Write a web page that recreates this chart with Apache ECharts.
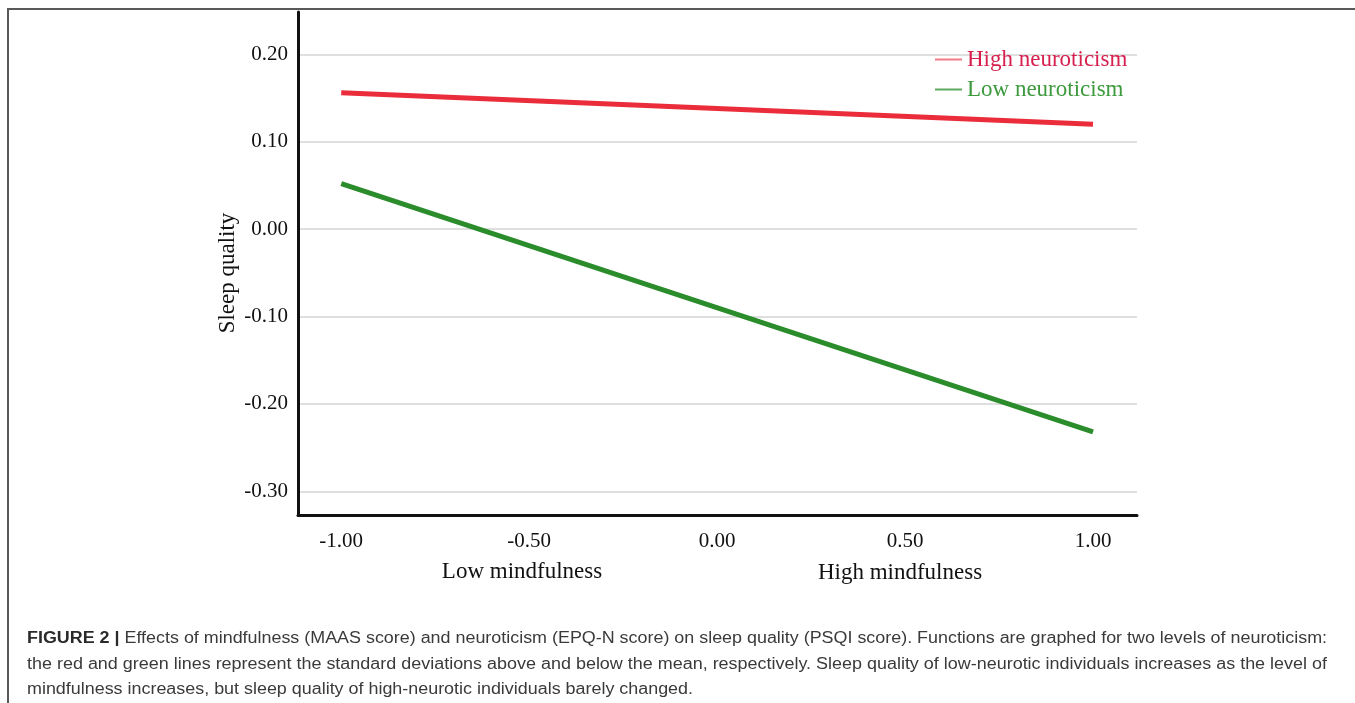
<!DOCTYPE html>
<html>
<head>
<meta charset="utf-8">
<script src="https://cdn.jsdelivr.net/npm/echarts@6/dist/echarts.min.js"></script>
<style>
  html, body { margin: 0; padding: 0; background: #fff; }
  #wrap { position: relative; width: 1355px; height: 703px; overflow: hidden; }
  #frame { position: absolute; left: 7px; top: 8px; width: 1400px; height: 800px;
           border-top: 2px solid #595959; border-left: 2px solid #595959; }
  #chart { position: absolute; left: 0; top: 0; width: 1355px; height: 703px; }
  #caption { position: absolute; left: 27px; top: 625px; font-family: "Liberation Sans", Arial, sans-serif;
             font-size: 16px; color: #3a3a3a; line-height: 25.5px; }
  #caption div { white-space: nowrap; transform-origin: 0 50%; }
  #caption b { color: #2a2a2a; }
</style>
</head>
<body>
<div id="wrap">
  <div id="frame"></div>
  <div id="chart"></div>
  <div id="caption">
    <div data-w="1300"><b>FIGURE 2 |</b> Effects of mindfulness (MAAS score) and neuroticism (EPQ-N score) on sleep quality (PSQI score). Functions are graphed for two levels of neuroticism:</div>
    <div data-w="1300">the red and green lines represent the standard deviations above and below the mean, respectively. Sleep quality of low-neurotic individuals increases as the level of</div>
    <div data-w="666">mindfulness increases, but sleep quality of high-neurotic individuals barely changed.</div>
  </div>
</div>
<script>
// ---- data ----
const mindfulness = [-1.00, 1.00];
const highNeuroticism = [0.156, 0.120];
const lowNeuroticism = [0.052, -0.232];
const xTicks = [-1.00, -0.50, 0.00, 0.50, 1.00];
const yTicks = [-0.30, -0.20, -0.10, 0.00, 0.10, 0.20];
const seriesNames = ['High neuroticism', 'Low neuroticism'];
const yAxisTitle = 'Sleep quality';
const xAxisLow = 'Low mindfulness';
const xAxisHigh = 'High mindfulness';

const serif = '"Liberation Serif", "Times New Roman", serif';
const chart = echarts.init(document.getElementById('chart'), null, { renderer: 'canvas' });

const option = {
  backgroundColor: 'transparent',
  animation: false,
  grid: { left: 298, right: 218, top: 12, bottom: 188, containLabel: false },
  legend: {
    orient: 'vertical',
    left: 930, top: 43,
    itemWidth: 27, itemHeight: 2, itemGap: 7,
    icon: 'rect',
    textStyle: { fontFamily: serif, fontSize: 23 },
    data: [
      { name: seriesNames[0], itemStyle: { color: '#f07b86' }, textStyle: { color: '#d61f4e' } },
      { name: seriesNames[1], itemStyle: { color: '#5fa85f' }, textStyle: { color: '#3d9a3d' } }
    ]
  },
  xAxis: {
    type: 'value', min: -1.115, max: 1.117,
    axisLine: { show: true, onZero: false, lineStyle: { color: '#111', width: 3 } },
    axisTick: { show: false, customValues: xTicks },
    splitLine: { show: false },
    axisLabel: { customValues: xTicks, formatter: v => v.toFixed(2), margin: 16,
                 fontFamily: serif, fontSize: 21, color: '#111' }
  },
  yAxis: {
    type: 'value', min: -0.3271, max: 0.2484,
    axisLine: { show: true, onZero: false, lineStyle: { color: '#111', width: 3 } },
    axisTick: { show: false, customValues: yTicks },
    splitLine: { show: true, lineStyle: { color: '#d4d4d4', width: 1.5 } },
    axisLabel: { customValues: yTicks, formatter: v => v.toFixed(2), margin: 10,
                 fontFamily: serif, fontSize: 21, color: '#111' }
  },
  graphic: [
    { type: 'text', x: 228, y: 273, rotation: Math.PI / 2,
      style: { text: yAxisTitle, font: '23px ' + serif, fill: '#111', align: 'center', verticalAlign: 'middle' } },
    { type: 'text', x: 522, y: 572,
      style: { text: xAxisLow, font: '23px ' + serif, fill: '#111', align: 'center', verticalAlign: 'middle' } },
    { type: 'text', x: 900, y: 573,
      style: { text: xAxisHigh, font: '23px ' + serif, fill: '#111', align: 'center', verticalAlign: 'middle' } }
  ],
  series: [
    { name: seriesNames[0], type: 'line', showSymbol: false, symbol: 'none',
      lineStyle: { color: '#eb2c3a', width: 5 }, itemStyle: { color: '#eb2c3a' },
      data: mindfulness.map((x, i) => [x, highNeuroticism[i]]) },
    { name: seriesNames[1], type: 'line', showSymbol: false, symbol: 'none',
      lineStyle: { color: '#2b8c2b', width: 5 }, itemStyle: { color: '#2b8c2b' },
      data: mindfulness.map((x, i) => [x, lowNeuroticism[i]]) }
  ]
};
chart.setOption(option);

// fit caption lines to their widths in the figure
document.querySelectorAll('#caption div').forEach(d => {
  const target = +d.dataset.w;
  const r = document.createRange(); r.selectNodeContents(d);
  const w = r.getBoundingClientRect().width;
  if (w > 0) d.style.transform = 'scaleX(' + (target / w).toFixed(4) + ')';
});
</script>
</body>
</html>
